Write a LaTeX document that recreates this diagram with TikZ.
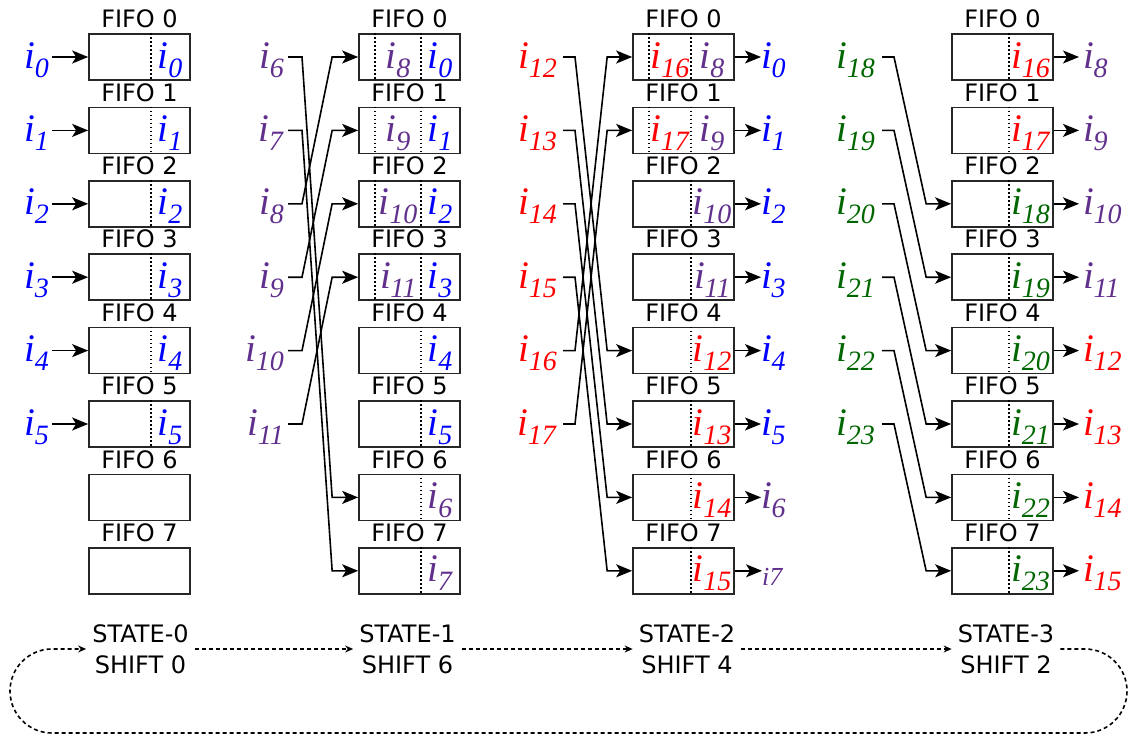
\documentclass[tikz,border=0pt]{standalone}
\usepackage{fontspec}
\setmainfont{Liberation Serif}
\newfontfamily\dejavu{DejaVu Sans}
\usetikzlibrary{arrows.meta,calc}
\definecolor{cblue}{RGB}{0,0,255}
\definecolor{cpurple}{RGB}{96,48,140}
\definecolor{cred}{RGB}{255,0,0}
\definecolor{cgreen}{RGB}{0,102,0}
\newcommand\isub[1]{\fontsize{39}{39}\selectfont\textit{i}\kern-0.5pt\raisebox{-9pt}{\fontsize{28}{28}\selectfont\textit{#1}}}
\begin{document}
\begin{tikzpicture}[x=1pt,y=-1pt,
  fifo/.style={draw=black!85, line width=1.7pt, minimum width=101pt, minimum height=46pt, inner sep=0pt},
  ftitle/.style={font=\dejavu\fontsize{24}{24}\selectfont, inner sep=0pt, anchor=base},
  lab/.style={inner sep=0pt, text height=22pt, text depth=0pt},
  conn/.style={line width=1.6pt, -{Stealth[length=16pt,width=13pt,inset=4pt]}},
  dv/.style={line width=1.6pt, dash pattern=on 1.6pt off 2.4pt},
  st/.style={font=\dejavu\fontsize{24}{31}\selectfont, align=center, inner xsep=6pt, inner ysep=0pt},
  sarr/.style={line width=1.6pt, dash pattern=on 4pt off 3pt, -{Stealth[length=8pt,width=7pt]}}
]
\useasboundingbox (0,0) rectangle (1130,736);

% ---------------- column 1 ----------------
\foreach \k in {0,...,7} {
  \node[fifo] (b1-\k) at (139.5,{57+73.4*\k}) {};
  \node[ftitle] (t1-\k) at ($(b1-\k.north)+(0,-5.5)$) {FIFO \k};
}
\foreach \k in {0,...,5} {
  \draw[dv] ($(b1-\k.north west)+(63,0)$) -- ($(b1-\k.south west)+(63,0)$);
  \node[lab,text=cblue] (r1-\k) at ($(b1-\k.west)+(82,0)$) {\isub{\k}};
  \node[lab,text=cblue,anchor=east] (l1-\k) at (49,{57+73.4*\k}) {\isub{\k}};
  \draw[conn,shorten <=3pt] (l1-\k.east) -- (b1-\k.west);
}

% ---------------- column 2 ----------------
\foreach \k in {0,...,7} {
  \node[fifo] (b2-\k) at (409.5,{57+73.4*\k}) {};
  \node[ftitle] (t2-\k) at ($(b2-\k.north)+(0,-5.5)$) {FIFO \k};
  \draw[dv] ($(b2-\k.north west)+(63,0)$) -- ($(b2-\k.south west)+(63,0)$);
  \ifnum\k<6 \def\cc{cblue}\else\def\cc{cpurple}\fi
  \node[lab,text=\cc] (r2-\k) at ($(b2-\k.west)+(82,0)$) {\isub{\k}};
}
\foreach \k in {0,...,3} {
  \draw[dv] ($(b2-\k.north west)+(17,0)$) -- ($(b2-\k.south west)+(17,0)$);
  \pgfmathtruncatemacro\m{\k+8}
  \node[lab,text=cpurple] (m2-\k) at ($(b2-\k.west)+(40,0)$) {\isub{\m}};
}
\foreach \j in {0,...,5} {
  \pgfmathtruncatemacro\m{\j+6}
  \pgfmathtruncatemacro\tg{mod(\j+6,8)}
  \node[lab,text=cpurple,anchor=east] (l2-\j) at (284,{57+73.4*\j}) {\isub{\m}};
  \draw[conn,shorten <=4pt] (l2-\j.east) -- ++(18,0) -- ($(b2-\tg.west)+(-26,0)$) -- (b2-\tg.west);
}

% ---------------- column 3 ----------------
\foreach \k in {0,...,7} {
  \node[fifo] (b3-\k) at (683.5,{57+73.4*\k}) {};
  \node[ftitle] (t3-\k) at ($(b3-\k.north)+(0,-5.5)$) {FIFO \k};
  \draw[dv] ($(b3-\k.north west)+(59,0)$) -- ($(b3-\k.south west)+(59,0)$);
  \pgfmathtruncatemacro\m{\k+8}
  \ifnum\k<4 \def\cc{cpurple}\else\def\cc{cred}\fi
  \node[lab,text=\cc] (r3-\k) at ($(b3-\k.west)+(80,0)$) {\isub{\m}};
}
\foreach \k in {0,1} {
  \draw[dv] ($(b3-\k.north west)+(17,0)$) -- ($(b3-\k.south west)+(17,0)$);
  \pgfmathtruncatemacro\m{\k+16}
  \node[lab,text=cred] (m3-\k) at ($(b3-\k.west)+(38,0)$) {\isub{\m}};
}
\foreach \k in {0,...,6} {
  \ifnum\k<6 \def\cc{cblue}\else\def\cc{cpurple}\fi
  \node[lab,text=\cc,anchor=west] (o3-\k) at (761,{57+73.4*\k}) {\isub{\k}};
  \draw[conn] (b3-\k.east) -- (o3-\k.west);
}
\node[inner sep=0pt,anchor=base west,text=cpurple] (o3-7) at (762,585) {\fontsize{26}{26}\selectfont\textit{i7}};
\draw[conn] (b3-7.east) -- (b3-7.east -| o3-7.west);
\foreach \j in {0,...,5} {
  \pgfmathtruncatemacro\m{\j+12}
  \pgfmathtruncatemacro\tg{mod(\j+4,8)}
  \node[lab,text=cred,anchor=east] (l3-\j) at (557,{57+73.4*\j}) {\isub{\m}};
  \draw[conn,shorten <=6pt] (l3-\j.east) -- ++(18,0) -- ($(b3-\tg.west)+(-25,0)$) -- (b3-\tg.west);
}

% ---------------- column 4 ----------------
\foreach \k in {0,...,7} {
  \node[fifo] (b4-\k) at (1002.5,{57+73.4*\k}) {};
  \node[ftitle] (t4-\k) at ($(b4-\k.north)+(0,-5.5)$) {FIFO \k};
  \draw[dv] ($(b4-\k.north west)+(58,0)$) -- ($(b4-\k.south west)+(58,0)$);
  \pgfmathtruncatemacro\m{\k+16}
  \ifnum\k<2 \def\cc{cred}\else\def\cc{cgreen}\fi
  \node[lab,text=\cc] (r4-\k) at ($(b4-\k.west)+(79.5,0)$) {\isub{\m}};
  \pgfmathtruncatemacro\n{\k+8}
  \ifnum\k<4 \def\oc{cpurple}\else\def\oc{cred}\fi
  \node[lab,text=\oc,anchor=west] (o4-\k) at (1083,{57+73.4*\k}) {\isub{\n}};
  \draw[conn,shorten >=4pt] (b4-\k.east) -- (o4-\k.west);
}
\foreach \j in {0,...,5} {
  \pgfmathtruncatemacro\m{\j+18}
  \pgfmathtruncatemacro\tg{\j+2}
  \node[lab,text=cgreen,anchor=east] (l4-\j) at (875,{57+73.4*\j}) {\isub{\m}};
  \draw[conn,shorten <=7pt] (l4-\j.east) -- ++(19,0) -- ($(b4-\tg.west)+(-25,0)$) -- (b4-\tg.west);
}

% ---------------- states ----------------
\node[st] (s0) at (140.5,649) {STATE-0\\SHIFT 0};
\node[st] (s1) at (407.5,649) {STATE-1\\SHIFT 6};
\node[st] (s2) at (687,649) {STATE-2\\SHIFT 4};
\node[st] (s3) at (1006,649) {STATE-3\\SHIFT 2};
\draw[sarr] (s0.east) -- (s1.west);
\draw[sarr] (s1.east) -- (s2.west);
\draw[sarr] (s2.east) -- (s3.west);
\coordinate (c1) at (1127,649);
\coordinate (c2) at (1127,733);
\coordinate (c3) at (10,733);
\coordinate (c4) at (10,649);
\draw[sarr,rounded corners=42pt] (s3.east) -- (c1) -- (c2) -- (c3) -- (c4) -- (s0.west);
\end{tikzpicture}
\end{document}
